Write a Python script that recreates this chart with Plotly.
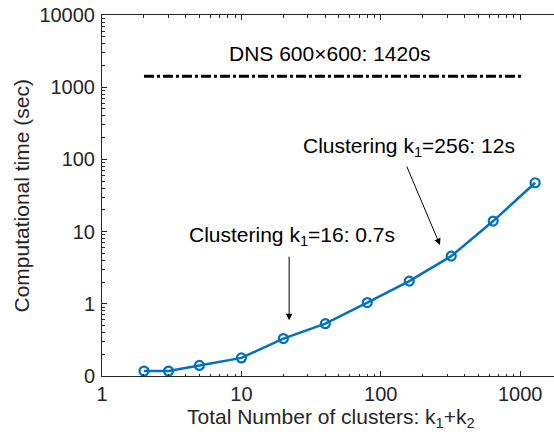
import numpy as np
import plotly.graph_objects as go

# Total number of clusters (k1 + k2) and measured run time in seconds
clusters = [2, 3, 5, 10, 20, 40, 80, 160, 320, 640, 1280]
time_sec = [0.117, 0.117, 0.14, 0.178, 0.33, 0.53, 1.04, 2.06, 4.57, 14.0, 47.5]

# Reference DNS cost
dns_x = [2, 1024]
dns_time = [1420, 1420]

x_tick_vals = [1, 10, 100, 1000]
x_tick_text = ["1", "10", "100", "1000"]
y_tick_vals = [0.1, 1, 10, 100, 1000, 10000]
y_tick_text = ["0", "1", "10", "100", "1000", "10000"]

# minor log ticks (2..9 in each decade)
x_minor = [m * 10.0 ** e for e in range(0, 4) for m in range(2, 10)]
y_minor = [m * 10.0 ** e for e in range(-1, 4) for m in range(2, 10)]

AXIS_COLOR = "#262626"
FONT = "Liberation Sans, Arial, sans-serif"
X_RANGE = [0, 3.2425]
Y_RANGE = [-1, 4]

fig = go.Figure()

fig.add_trace(go.Scatter(
    x=dns_x, y=dns_time, mode="lines", xaxis="x2",
    line=dict(color="black", width=3, dash="10px,3px,3px,3px"),
    showlegend=False, hoverinfo="skip",
))

fig.add_trace(go.Scatter(
    x=clusters, y=time_sec, mode="lines+markers",
    line=dict(color="#0072BD", width=2.5),
    marker=dict(symbol="circle-open", size=9, color="#0072BD",
                line=dict(width=2.2, color="#0072BD")),
    showlegend=False,
))


def axis_style(minor_vals):
    return dict(
        type="log", showgrid=False, zeroline=False, showline=True,
        linecolor=AXIS_COLOR, linewidth=1, ticks="inside", ticklen=5,
        tickcolor=AXIS_COLOR, tickwidth=1,
        minor=dict(ticks="inside", ticklen=2.5, tickcolor=AXIS_COLOR,
                   tickwidth=1, tickmode="array", tickvals=minor_vals,
                   showgrid=False),
        tickfont=dict(family=FONT, size=20, color=AXIS_COLOR),
    )


fig.update_layout(
    width=554, height=436,
    margin=dict(l=102, r=0, t=15, b=60, pad=0),
    paper_bgcolor="white", plot_bgcolor="white",
    font=dict(family=FONT, color="black"),
    xaxis=dict(axis_style(x_minor), range=X_RANGE, tickmode="array",
               tickvals=x_tick_vals, ticktext=x_tick_text, ticklabelstandoff=0),
    xaxis2=dict(axis_style(x_minor), range=X_RANGE, overlaying="x", side="top",
                showticklabels=False, tickmode="array", tickvals=x_tick_vals),
    yaxis=dict(axis_style(y_minor), range=Y_RANGE, tickmode="array",
               tickvals=y_tick_vals, ticktext=y_tick_text, ticklabelstandoff=2),
)

text_font = dict(family=FONT, size=21, color="black")
title_font = dict(family=FONT, size=21, color=AXIS_COLOR)

annotations = [
    # DNS label
    dict(x=1.630, y=3.462, xref="x", yref="y",
         text="DNS 600\u00d7600: 1420s", showarrow=False, font=text_font),
    # clustering labels
    dict(x=1.363, y=0.94, xref="x", yref="y",
         text="Clustering k<sub>1</sub>=16: 0.7s", showarrow=False, font=text_font),
    dict(x=2.200, y=2.17, xref="x", yref="y",
         text="Clustering k<sub>1</sub>=256: 12s", showarrow=False, font=text_font),
    # arrows
    dict(x=np.log10(22.0), y=np.log10(0.59), ax=np.log10(22.0), ay=np.log10(4.72),
         xref="x", yref="y", axref="x", ayref="y", text="", showarrow=True,
         arrowhead=2, arrowsize=1.3, arrowwidth=1, arrowcolor="black"),
    dict(x=np.log10(266), y=np.log10(6.5), ax=np.log10(152), ay=np.log10(83.6),
         xref="x", yref="y", axref="x", ayref="y", text="", showarrow=True,
         arrowhead=2, arrowsize=1.3, arrowwidth=1, arrowcolor="black"),
    # axis titles
    dict(x=(331 - 102) / 452, y=-0.076, xref="paper", yref="paper",
         text="Total Number of clusters: k<sub>1</sub>+k<sub>2</sub>",
         showarrow=False, font=title_font, yanchor="top"),
    dict(x=-0.177, y=0.5, xref="paper", yref="paper",
         text="Computational time (sec)", textangle=-90,
         showarrow=False, font=title_font, xanchor="center"),
]
fig.update_layout(annotations=annotations)

fig.write_html("out.html")
